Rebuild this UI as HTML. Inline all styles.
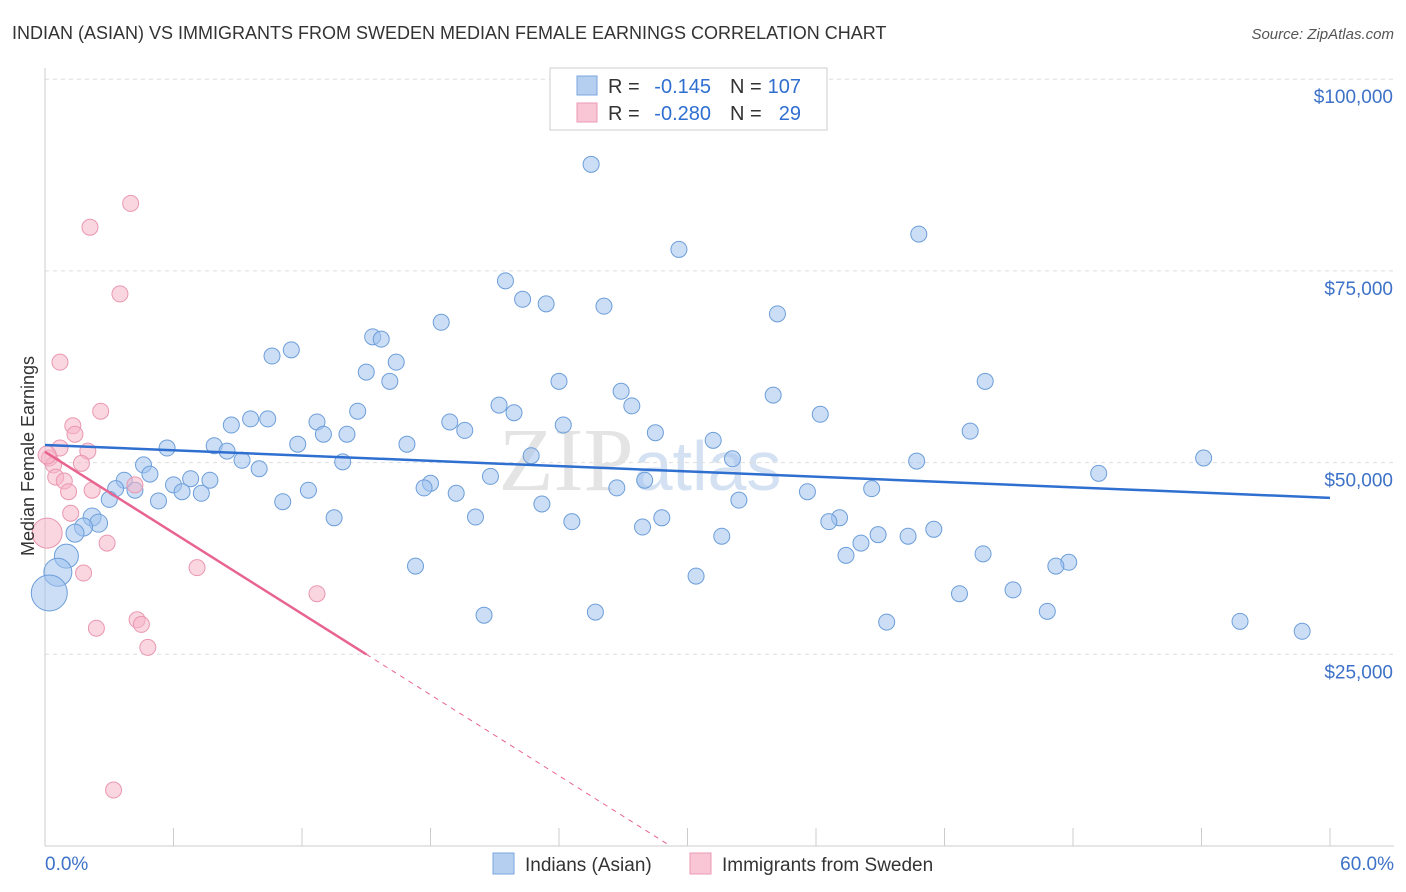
<!DOCTYPE html>
<html><head><meta charset="utf-8"><style>
body{margin:0;background:#fff;font-family:"Liberation Sans",sans-serif}
svg{display:block}
</style></head><body>
<svg id="chart" width="1406" height="892">
<text x="12" y="39" font-size="18" fill="#333">INDIAN (ASIAN) VS IMMIGRANTS FROM SWEDEN MEDIAN FEMALE EARNINGS CORRELATION CHART</text>
<text x="1394" y="39" font-size="15" fill="#555" font-style="italic" text-anchor="end">Source: ZipAtlas.com</text>
<text x="640" y="490" font-size="90" fill="#e4e4e4" font-family="Liberation Serif" text-anchor="middle">ZIP<tspan font-family="Liberation Sans" font-size="70" fill="#d3e1f3">atlas</tspan></text>
<g id="grid"></g><g id="axes"></g><g id="marks"></g>
<text transform="translate(34,456) rotate(-90)" font-size="18" fill="#333" text-anchor="middle">Median Female Earnings</text>
<g>
<rect x="550" y="68" width="277" height="62" fill="#fff" stroke="#ccc"/>
<rect x="577" y="76" width="20" height="19" fill="#b5cff0" stroke="#7aa6dd"/>
<text x="608" y="93" font-size="20" fill="#333">R =</text>
<text x="711" y="93" font-size="20" fill="#2f6fd0" text-anchor="end">-0.145</text>
<text x="730" y="93" font-size="20" fill="#333">N =</text>
<text x="801" y="93" font-size="20" fill="#2f6fd0" text-anchor="end">107</text>
<rect x="577" y="103" width="20" height="19" fill="#f8c6d5" stroke="#ec9ab4"/>
<text x="608" y="120" font-size="20" fill="#333">R =</text>
<text x="711" y="120" font-size="20" fill="#2f6fd0" text-anchor="end">-0.280</text>
<text x="730" y="120" font-size="20" fill="#333">N =</text>
<text x="801" y="120" font-size="20" fill="#2f6fd0" text-anchor="end">29</text>
</g>
<g>
<rect x="493" y="853" width="21" height="21" fill="#b5cff0" stroke="#7aa6dd"/>
<text x="525" y="871" font-size="19" fill="#333">Indians (Asian)</text>
<rect x="690" y="853" width="21" height="21" fill="#f8c6d5" stroke="#ec9ab4"/>
<text x="722" y="871" font-size="19" fill="#333">Immigrants from Sweden</text>
</g>
</svg>
<script>
const xTicks=[0,6,12,18,24,30,36,42,48,54,60];
const yTicks=[25000,50000,75000,100000];
const yTickLabels=["$25,000","$50,000","$75,000","$100,000"];
const blueX=[25.5,29.6,40.8,21.5,22.3,23.4,26.1,34.2,18.5,15.3,15.7,11.5,10.6,16.4,15.0,16.1,24.0,43.9,26.9,34.0,27.4,21.2,21.9,14.6,36.2,9.6,10.4,8.7,12.7,18.9,24.2,19.6,13.0,14.1,28.5,43.2,31.2,16.9,11.8,7.9,5.7,8.5,22.7,32.1,54.1,9.2,13.9,40.7,4.6,10.0,49.2,4.9,20.8,28.0,6.8,7.7,3.7,18.0,6.0,3.3,17.7,26.7,38.6,4.2,6.4,7.3,12.3,19.2,35.6,3.0,5.3,11.1,32.4,23.2,20.1,13.5,28.8,37.1,36.6,24.6,2.2,2.5,27.9,41.5,1.8,1.4,38.9,40.3,31.6,38.1,37.4,43.8,1.0,47.8,47.2,17.3,0.6,30.4,45.2,42.7,0.2,25.7,20.5,46.8,39.3,55.8,58.7];
const blueY=[88900,77800,79800,73700,71300,70700,70400,69400,68300,66400,66100,64700,63900,63100,61800,60600,60600,60600,59300,58800,57400,57500,56500,56700,56300,55700,55700,54900,55300,55300,54900,54200,53700,53700,53900,54100,52900,52400,52400,52200,51900,51500,50900,50500,50600,50300,50100,50200,49700,49200,48600,48500,48200,47700,47900,47700,47700,47300,47100,46600,46700,46700,46600,46400,46200,46000,46400,46000,46200,45200,45000,44900,45100,44600,42900,42800,42800,42800,42300,42300,42900,42100,41600,41300,41600,40800,40600,40400,40400,39500,37900,38100,37800,37000,36500,36500,35700,35200,33400,32900,33000,30500,30100,30600,29200,29300,28000];
const blueSize=[];blueSize[92]=12;blueSize[96]=14;blueSize[100]=18;blueSize[84]=9;blueSize[85]=9;blueSize[80]=9;blueSize[81]=9;
const pinkX=[4.0,2.1,3.5,0.7,2.6,1.3,1.4,0.7,2.0,0.2,0.4,1.7,0.5,0.9,4.2,1.1,2.2,1.2,2.9,0.1,1.8,7.1,12.7,4.3,4.5,2.4,4.8,3.2,0.1];
const pinkY=[83800,80700,72000,63100,56700,54800,53700,51900,51500,50600,49700,49900,48100,47600,47100,46200,46400,43400,39500,40800,35600,36300,32900,29500,28900,28400,25900,7300,51000];
const pinkSize=[];pinkSize[19]=15;pinkSize[28]=9;
const blueLine=[52300,45400];
const pinkLine=[51400,-1760];
const X=v=>45+v/60*1285, Y=v=>846-v/25000*191.7;
const NS="http://www.w3.org/2000/svg";
function mk(p,t,a){const e=document.createElementNS(NS,t);for(const k in a)e.setAttribute(k,a[k]);p.appendChild(e);return e;}
const grid=document.getElementById('grid'),axes=document.getElementById('axes'),marks=document.getElementById('marks');
yTicks.forEach((v,i)=>{const l=mk(grid,'line',{x1:45,x2:1394,y1:Y(v),y2:Y(v),stroke:'#ddd','stroke-dasharray':'4,4'});


const t=mk(axes,'text',{x:1393,y:Y(v)+24,'font-size':19,fill:'#3d72c8','text-anchor':'end'});t.textContent=yTickLabels[i];

});
mk(axes,'line',{x1:45,x2:45,y1:68,y2:846,stroke:'#ccc'});
mk(axes,'line',{x1:45,x2:1394,y1:846,y2:846,stroke:'#ccc'});
xTicks.forEach(v=>{const l=mk(axes,'line',{x1:X(v),x2:X(v),y1:828,y2:846,stroke:'#ccc'});

});
let t=mk(axes,'text',{x:45,y:870,'font-size':19,fill:'#3d72c8'});t.textContent='0.0%';


t=mk(axes,'text',{x:1394,y:870,'font-size':19,fill:'#3d72c8','text-anchor':'end'});t.textContent='60.0%';


blueX.forEach((v,i)=>{const c=mk(marks,'circle',{cx:X(v),cy:Y(blueY[i]),r:blueSize[i]||8,fill:'rgba(160,195,238,0.55)',stroke:'#6d9ed9','stroke-width':1});

});
pinkX.forEach((v,i)=>{const c=mk(marks,'circle',{cx:X(v),cy:Y(pinkY[i]),r:pinkSize[i]||8,fill:'rgba(246,180,200,0.55)',stroke:'#ea97b1','stroke-width':1});

});
let l=mk(marks,'line',{x1:X(0),y1:Y(blueLine[0]),x2:X(60),y2:Y(blueLine[1]),stroke:'#2f6fd0','stroke-width':2.5});


const pEnd=15,pZero=-pinkLine[0]/pinkLine[1];
l=mk(marks,'line',{x1:X(0),y1:Y(pinkLine[0]),x2:X(pEnd),y2:Y(pinkLine[0]+pinkLine[1]*pEnd),stroke:'#e8638f','stroke-width':2.5});


l=mk(marks,'line',{x1:X(pEnd),y1:Y(pinkLine[0]+pinkLine[1]*pEnd),x2:X(pZero),y2:Y(0),stroke:'#e8638f','stroke-width':1,'stroke-dasharray':'5,5'});


</script>
</body></html>
